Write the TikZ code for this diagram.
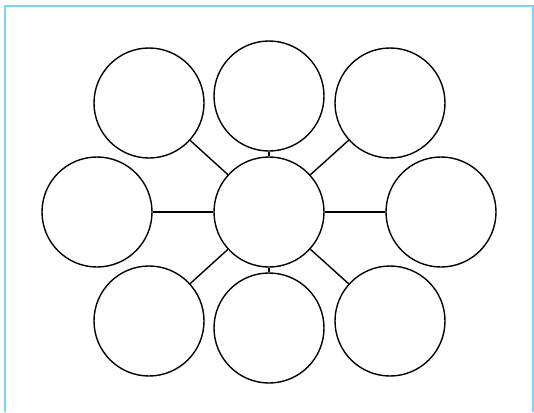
\documentclass[tikz,border=0pt]{standalone}
\begin{document}
\begin{tikzpicture}[x=1pt,y=-1pt,
  bubble/.style={circle,draw=black,line width=1.4pt,minimum size=110pt,inner sep=0pt},
  link/.style={draw=black,line width=1.4pt}]
\definecolor{framecol}{RGB}{120,212,250}
\useasboundingbox (0,0) rectangle (534,412);
\draw[framecol,line width=2pt] (5,412) -- (5,6) -- (532.5,6) -- (532.5,412);
\node[bubble] (c) at (269,212) {};
\node[bubble] (t) at (269,96) {};
\node[bubble] (b) at (269,328) {};
\node[bubble] (tl) at (149,103) {};
\node[bubble] (tr) at (390,103) {};
\node[bubble] (l) at (97,212) {};
\node[bubble] (r) at (441,212) {};
\node[bubble] (bl) at (149,321) {};
\node[bubble] (br) at (390,321) {};
\foreach \n in {t,b,tl,tr,l,r,bl,br} \draw[link] (c) -- (\n);
\end{tikzpicture}
\end{document}
